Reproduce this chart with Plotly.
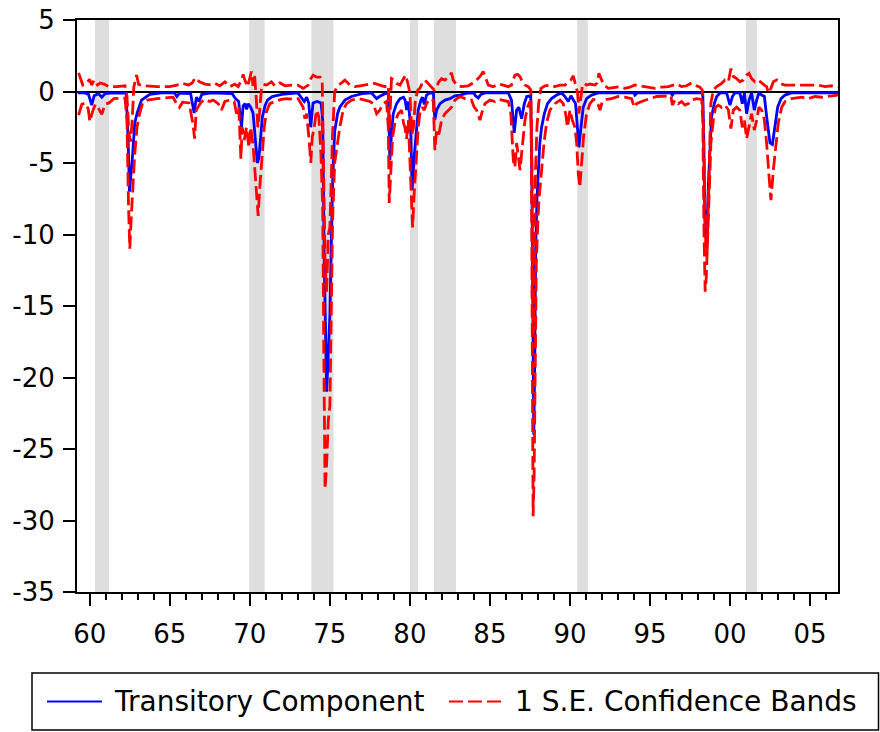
import plotly.graph_objects as go

# ---------------- data ----------------
t_years = [1959.25, 1959.7, 1959.92, 1960.12, 1960.27, 1960.54, 1960.75, 1960.96, 1961.5, 1962.27,
           1962.4, 1962.48, 1962.65, 1962.81, 1962.96, 1963.23, 1963.75, 1964.5, 1965.3, 1965.44,
           1965.6, 1966.3, 1966.52, 1966.66, 1966.82, 1967.0, 1967.6, 1968.5, 1968.9, 1969.1,
           1969.3, 1969.48, 1969.58, 1969.7, 1969.8, 1969.9, 1970.05, 1970.2, 1970.32, 1970.47,
           1970.57, 1970.68, 1970.78, 1970.95, 1971.1, 1971.4, 1972.0, 1973.0, 1973.2, 1973.4,
           1973.55, 1973.68, 1973.8, 1973.95, 1974.2, 1974.45, 1974.55, 1974.65, 1974.8, 1974.9,
           1975.0, 1975.08, 1975.17, 1975.3, 1975.48, 1975.62, 1975.94, 1976.35, 1977.0, 1977.6,
           1977.92, 1978.1, 1978.44, 1978.65, 1978.75, 1978.85, 1978.96, 1979.17, 1979.38, 1979.6,
           1979.7, 1979.8, 1979.9, 1980.05, 1980.14, 1980.27, 1980.42, 1980.52, 1980.69, 1980.79,
           1980.9, 1981.04, 1981.25, 1981.47, 1981.56, 1981.67, 1981.88, 1982.19, 1982.5, 1982.81,
           1983.12, 1983.65, 1984.0, 1984.1, 1984.27, 1984.44, 1984.7, 1986.15, 1986.35, 1986.52,
           1986.67, 1986.81, 1986.98, 1987.15, 1987.3, 1987.55, 1987.62, 1987.68, 1987.74, 1987.8,
           1987.86, 1987.94, 1988.02, 1988.12, 1988.23, 1988.4, 1988.6, 1988.85, 1989.17, 1989.48,
           1989.69, 1989.9, 1990.06, 1990.21, 1990.35, 1990.48, 1990.56, 1990.69, 1990.83, 1991.04,
           1991.35, 1991.77, 1994.0, 1994.06, 1994.2, 1996.3, 1996.4, 1996.5, 1998.3, 1998.36,
           1998.43, 1998.5, 1998.58, 1998.65, 1998.75, 1998.85, 1999.02, 1999.17, 1999.38, 1999.79,
           2000.0, 2000.15, 2000.31, 2000.62, 2000.77, 2000.9, 2001.04, 2001.19, 2001.35, 2001.52,
           2001.67, 2001.81, 2001.98, 2002.15, 2002.29, 2002.5, 2002.65, 2002.81, 2002.98, 2003.19,
           2003.44, 2003.85, 2006.75]
t_vals = [-0.1, -0.1, -0.2, -0.95, -0.3, -0.15, -0.4, -0.15, -0.1, -0.12,
          -3.6, -7.0, -4.8, -2.2, -1.5, -0.6, -0.2, -0.1, -0.1, -0.35,
          -0.12, -0.15, -1.5, -0.4, -0.7, -0.2, -0.1, -0.15, -0.15, -0.5,
          -0.7, -2.5, -1.0, -0.85, -1.25, -0.85, -1.1, -1.5, -3.0, -5.0,
          -4.6, -3.0, -1.8, -1.0, -0.6, -0.35, -0.2, -0.1, -0.4, -0.7,
          -0.4, -0.8, -2.5, -0.8, -0.7, -0.8, -2.0, -12.0, -21.0, -18.0,
          -15.7, -11.0, -6.4, -2.8, -1.55, -1.1, -0.6, -0.35, -0.15, -0.1,
          -0.5, -0.35, -0.15, -0.15, -4.8, -3.0, -1.55, -0.85, -0.5, -0.4,
          -0.6, -1.3, -0.7, -2.5, -6.9, -4.6, -2.2, -1.3, -0.6, -0.4,
          -0.9, -0.25, -0.1, -0.12, -2.0, -1.3, -0.85, -0.6, -0.5, -0.3,
          -0.25, -0.1, -0.12, -0.3, -0.45, -0.2, -0.1, -0.1, -0.6, -2.9,
          -1.3, -1.1, -1.9, -0.85, -0.35, -0.3, -6.0, -16.0, -24.0, -19.0,
          -11.0, -7.5, -5.8, -3.6, -2.5, -1.55, -0.85, -0.5, -0.25, -0.1,
          -0.35, -0.7, -0.3, -0.6, -0.85, -2.7, -3.9, -2.5, -1.1, -0.5,
          -0.25, -0.1, -0.1, -0.25, -0.1, -0.1, -0.25, -0.1, -0.1, -3.0,
          -9.0, -10.0, -9.2, -6.5, -3.6, -1.75, -0.85, -0.35, -0.1, -0.1,
          -0.95, -0.35, -0.1, -0.1, -0.85, -0.1, -1.55, -0.6, -0.1, -1.3,
          -0.6, -0.1, -0.25, -0.35, -1.75, -3.6, -3.7, -2.5, -1.1, -0.5,
          -0.25, -0.1, -0.1]

up_years = [1959.3, 1959.56, 1959.81, 1959.98, 1960.12, 1960.27, 1960.48, 1960.65, 1960.9, 1961.17,
            1961.7, 1962.2, 1962.32, 1962.45, 1962.55, 1962.65, 1962.75, 1962.92, 1963.05, 1963.35,
            1964.2, 1965.0, 1965.44, 1965.75, 1966.17, 1966.4, 1966.58, 1966.85, 1967.2, 1967.6,
            1967.81, 1968.12, 1968.44, 1968.75, 1969.06, 1969.27, 1969.48, 1969.58, 1969.69, 1969.85,
            1970.0, 1970.1, 1970.2, 1970.3, 1970.4, 1970.5, 1970.6, 1970.72, 1970.85, 1971.04,
            1971.35, 1971.56, 1971.88, 1972.2, 1972.6, 1973.0, 1973.33, 1973.65, 1973.81, 1973.96,
            1974.17, 1974.4, 1974.52, 1974.6, 1974.7, 1974.8, 1974.9, 1975.0, 1975.08, 1975.17,
            1975.3, 1975.5, 1975.73, 1975.94, 1976.25, 1976.56, 1976.88, 1977.19, 1977.5, 1977.81,
            1978.12, 1978.44, 1978.65, 1978.72, 1978.78, 1978.85, 1979.02, 1979.17, 1979.38, 1979.6,
            1979.73, 1979.85, 1980.0, 1980.12, 1980.22, 1980.35, 1980.5, 1980.62, 1980.77, 1980.94,
            1981.15, 1981.35, 1981.52, 1981.67, 1981.81, 1981.98, 1982.19, 1982.4, 1982.6, 1982.71,
            1982.92, 1983.23, 1983.65, 1984.06, 1984.38, 1984.58, 1984.73, 1984.9, 1985.21, 1985.52,
            1985.83, 1986.15, 1986.35, 1986.46, 1986.56, 1986.73, 1986.88, 1987.02, 1987.19, 1987.4,
            1987.56, 1987.64, 1987.72, 1987.78, 1987.85, 1987.94, 1988.05, 1988.19, 1988.44, 1988.75,
            1989.06, 1989.38, 1989.69, 1989.9, 1990.06, 1990.21, 1990.35, 1990.48, 1990.56, 1990.69,
            1990.77, 1990.9, 1991.04, 1991.25, 1991.56, 1991.7, 1991.81, 1991.98, 1992.19, 1992.4,
            1992.81, 1993.12, 1993.44, 1993.75, 1994.06, 1994.38, 1994.69, 1995.0, 1995.31, 1995.73,
            1996.15, 1996.46, 1996.67, 1996.98, 1997.29, 1997.6, 1997.81, 1998.12, 1998.27, 1998.35,
            1998.42, 1998.5, 1998.58, 1998.65, 1998.72, 1998.8, 1998.96, 1999.17, 1999.48, 1999.69,
            1999.9, 2000.06, 2000.21, 2000.42, 2000.62, 2000.83, 2001.04, 2001.19, 2001.35, 2001.56,
            2001.77, 2001.98, 2002.15, 2002.29, 2002.4, 2002.56, 2002.71, 2002.92, 2003.12, 2003.44,
            2003.85, 2004.27, 2004.69, 2005.1, 2005.52, 2005.94, 2006.35, 2006.75]
up_vals = [1.3, 0.45, 0.57, 0.85, 0.45, 0.8, 0.45, 0.6, 0.52, 0.34,
           0.34, 0.4, -0.3, -3.0, -3.5, -2.0, 0.3, 1.15, 0.5, 0.4,
           0.34, 0.34, 0.45, 0.57, 0.45, 0.6, 0.95, 0.68, 0.52, 0.45,
           0.57, 0.4, 0.68, 0.34, 0.52, 0.34, 0.8, 1.2, 0.8, 0.34,
           0.95, 1.4, 0.4, 1.1, -0.5, -2.5, -1.5, 0.1, 0.5, 0.45,
           0.68, 0.4, 0.6, 0.4, 0.45, 0.45, 0.22, 0.45, 0.9, 1.15,
           1.0, 1.0, 0.8, -4.0, -12.0, -14.0, -10.0, -9.5, -6.5, -3.0,
           0.0, 0.4, 0.6, 0.8, 0.45, 0.34, 0.4, 0.45, 0.52, 0.57,
           0.45, 0.34, 0.45, -2.5, -1.0, 0.9, 0.8, 0.57, 0.45, 0.85,
           1.15, 0.68, -0.1, -3.0, -2.5, -0.5, 0.1, 0.22, 0.57, 0.8,
           0.57, 0.34, 0.1, 0.34, 0.68, 0.9, 0.8, 1.0, 1.3, 0.8,
           0.45, 0.34, 0.4, 0.68, 1.05, 1.4, 0.9, 0.45, 0.34, 0.52,
           0.45, 0.34, 0.45, 0.8, 1.15, 1.2, 1.05, 0.68, 0.45, 0.34,
           0.1, -6.0, -17.0, -13.0, -5.5, -2.5, -0.8, 0.22, 0.4, 0.45,
           0.34, 0.45, 0.45, 0.68, 0.8, 1.1, 0.57, -0.1, -1.55, -0.35,
           0.34, 0.57, 0.45, 0.52, 0.45, 0.6, 1.27, 0.8, 0.4, 0.22,
           0.3, 0.34, 0.22, 0.3, 0.45, 0.4, 0.34, 0.3, 0.22, 0.3,
           0.34, 0.45, 0.52, 0.34, 0.4, 0.6, 0.45, 0.3, 0.1, -3.0,
           -8.0, -11.5, -11.0, -7.0, -3.5, -0.85, 0.1, 0.34, 0.57, 0.8,
           0.68, 1.6, 1.05, 0.9, 0.68, 0.8, 1.15, 1.27, 0.9, 0.68,
           0.8, 0.57, 0.45, 0.34, -0.1, 0.22, 0.68, 0.8, 0.57, 0.45,
           0.45, 0.4, 0.45, 0.4, 0.45, 0.34, 0.4, 0.3]

lo_years = [1959.3, 1959.5, 1959.7, 1959.9, 1960.0, 1960.2, 1960.35, 1960.55, 1960.75, 1960.95,
            1961.2, 1961.5, 1962.2, 1962.32, 1962.42, 1962.5, 1962.58, 1962.68, 1962.8, 1962.95,
            1963.1, 1963.3, 1963.6, 1964.2, 1965.2, 1965.4, 1965.6, 1965.8, 1966.2, 1966.45,
            1966.55, 1966.65, 1966.95, 1967.19, 1967.5, 1967.71, 1968.02, 1968.23, 1968.44, 1968.75,
            1969.02, 1969.17, 1969.31, 1969.44, 1969.52, 1969.65, 1969.79, 1969.94, 1970.06, 1970.21,
            1970.31, 1970.42, 1970.52, 1970.62, 1970.77, 1970.9, 1971.04, 1971.25, 1971.56, 1971.98,
            1972.29, 1972.71, 1973.02, 1973.19, 1973.33, 1973.44, 1973.54, 1973.69, 1973.81, 1973.9,
            1974.02, 1974.17, 1974.31, 1974.44, 1974.55, 1974.62, 1974.7, 1974.8, 1974.9, 1975.0,
            1975.08, 1975.17, 1975.3, 1975.48, 1975.62, 1975.83, 1976.04, 1976.35, 1976.77, 1977.19,
            1977.5, 1977.71, 1977.92, 1978.12, 1978.33, 1978.54, 1978.65, 1978.71, 1978.81, 1978.92,
            1979.06, 1979.27, 1979.48, 1979.6, 1979.69, 1979.79, 1979.9, 1980.0, 1980.1, 1980.17,
            1980.27, 1980.42, 1980.52, 1980.62, 1980.77, 1980.9, 1981.04, 1981.25, 1981.46, 1981.56,
            1981.67, 1981.81, 1981.98, 1982.19, 1982.4, 1982.6, 1982.81, 1983.12, 1983.44, 1983.85,
            1984.02, 1984.17, 1984.27, 1984.38, 1984.48, 1984.69, 1985.0, 1985.31, 1985.52, 1985.83,
            1986.15, 1986.31, 1986.46, 1986.56, 1986.67, 1986.77, 1986.88, 1987.02, 1987.19, 1987.35,
            1987.5, 1987.58, 1987.64, 1987.7, 1987.76, 1987.82, 1987.9, 1988.0, 1988.06, 1988.23,
            1988.38, 1988.54, 1988.75, 1989.06, 1989.38, 1989.58, 1989.73, 1989.85, 1990.0, 1990.15,
            1990.31, 1990.42, 1990.52, 1990.62, 1990.73, 1990.85, 1991.04, 1991.25, 1991.46, 1991.6,
            1991.77, 1991.88, 1992.02, 1992.29, 1992.6, 1993.02, 1993.44, 1993.85, 1994.02, 1994.17,
            1994.48, 1994.69, 1995.0, 1995.42, 1995.94, 1996.31, 1996.4, 1996.56, 1996.77, 1996.98,
            1997.19, 1997.4, 1997.6, 1997.92, 1998.23, 1998.3, 1998.38, 1998.45, 1998.52, 1998.58,
            1998.65, 1998.72, 1998.81, 1998.96, 1999.1, 1999.27, 1999.48, 1999.69, 1999.9, 2000.06,
            2000.21, 2000.42, 2000.62, 2000.77, 2000.9, 2001.04, 2001.19, 2001.35, 2001.52, 2001.67,
            2001.81, 2001.98, 2002.15, 2002.29, 2002.44, 2002.56, 2002.71, 2002.85, 2003.02, 2003.23,
            2003.44, 2003.85, 2004.48, 2004.9, 2005.31, 2005.73, 2006.35, 2006.75]
lo_vals = [-1.65, -0.9, -0.8, -1.2, -2.1, -1.3, -0.9, -1.2, -1.6, -0.9,
           -0.8, -0.5, -0.45, -2.0, -8.0, -11.0, -9.0, -6.7, -4.5, -2.5,
           -1.6, -0.8, -0.6, -0.5, -0.4, -0.8, -1.1, -0.75, -0.8, -2.3,
           -3.3, -1.3, -0.75, -0.55, -0.7, -0.6, -0.85, -1.3, -0.7, -0.6,
           -0.7, -1.55, -1.1, -4.7, -2.5, -3.4, -2.5, -3.9, -2.5, -3.9,
           -5.5, -7.6, -8.7, -6.7, -4.3, -2.5, -1.4, -0.85, -0.7, -0.55,
           -0.5, -0.55, -0.5, -0.85, -1.1, -1.9, -1.55, -3.2, -5.0, -3.2,
           -2.5, -1.3, -1.75, -4.3, -8.0, -18.0, -27.8, -26.0, -23.0, -22.0,
           -16.0, -9.0, -5.0, -3.6, -2.5, -1.3, -0.85, -0.6, -0.5, -0.6,
           -0.7, -0.85, -1.55, -1.3, -0.85, -0.7, -2.5, -7.8, -5.5, -3.2,
           -2.2, -1.55, -1.3, -2.2, -2.5, -3.3, -2.0, -4.5, -7.6, -9.5,
           -7.1, -3.9, -2.5, -1.55, -1.1, -1.3, -0.85, -0.5, -0.6, -4.1,
           -2.7, -3.0, -2.0, -1.55, -1.3, -1.1, -0.6, -0.35, -0.5, -0.6,
           -1.1, -1.3, -1.65, -2.0, -1.55, -0.85, -0.6, -0.7, -0.55, -0.6,
           -0.7, -1.55, -4.8, -5.3, -3.6, -4.5, -5.5, -3.9, -2.0, -1.1,
           -0.7, -2.0, -15.0, -29.7, -27.0, -20.0, -12.0, -9.0, -7.6, -5.5,
           -3.6, -2.2, -1.3, -0.85, -0.6, -0.85, -1.55, -2.5, -1.3, -2.0,
           -2.5, -3.6, -5.7, -6.7, -4.8, -3.2, -1.55, -0.85, -0.55, -0.6,
           -0.95, -1.3, -0.7, -0.55, -0.5, -0.35, -0.4, -0.5, -1.1, -0.85,
           -0.7, -0.6, -0.5, -0.35, -0.35, -0.3, -0.95, -0.6, -0.85, -0.7,
           -0.95, -0.85, -0.6, -0.5, -0.55, -2.0, -10.0, -14.0, -13.0, -11.0,
           -9.0, -6.0, -3.6, -2.0, -1.1, -0.95, -1.1, -0.95, -1.3, -2.6,
           -1.3, -1.1, -1.3, -2.5, -2.0, -3.3, -2.5, -1.55, -2.7, -2.0,
           -1.1, -1.3, -2.0, -3.6, -5.9, -7.6, -5.5, -3.9, -2.2, -1.1,
           -0.7, -0.5, -0.4, -0.5, -0.35, -0.4, -0.3, -0.25]

rec_starts = [1960.33, 1969.96, 1973.85, 1980.0, 1981.5, 1990.46, 2001.0]
rec_ends = [1961.2, 1970.92, 1975.23, 1980.5, 1982.88, 1991.12, 2001.68]

x_tick_vals = [1960, 1965, 1970, 1975, 1980, 1985, 1990, 1995, 2000, 2005]
x_tick_text = ["60", "65", "70", "75", "80", "85", "90", "95", "00", "05"]
y_tick_vals = [5, 0, -5, -10, -15, -20, -25, -30, -35]
y_tick_text = ["5", "0", "-5", "-10", "-15", "-20", "-25", "-30", "-35"]

names = ["Transitory Component", "1 S.E. Confidence Bands"]

# ---------------- figure ----------------
W, H = 880, 732
PLOT_L, PLOT_R, PLOT_T, PLOT_B = 77, 838, 20, 592
ML, MR, MT, MB = PLOT_L, W - PLOT_R, PLOT_T, H - PLOT_B
PW, PH = W - ML - MR, H - MT - MB
FONT = "DejaVu Sans, Liberation Sans, Arial, sans-serif"
TICK_SIZE = 26
LEG_SIZE = 28


def px2x(px):  # page px -> paper x
    return (px - PLOT_L) / PW


def py2y(py):  # page px -> paper y
    return (PLOT_B - py) / PH


fig = go.Figure()

for s, e in zip(rec_starts, rec_ends):
    fig.add_vrect(x0=s, x1=e, fillcolor="#DEDEDE", opacity=1, line_width=0, layer="below")

DASH = "14px,5px"
LW = 2.8
fig.add_trace(go.Scatter(x=t_years, y=t_vals, mode="lines", name=names[0],
                         line=dict(color="#0000FF", width=LW), showlegend=False))
fig.add_trace(go.Scatter(x=up_years, y=up_vals, mode="lines", name=names[1],
                         line=dict(color="#FF0000", width=LW, dash=DASH), showlegend=False))
fig.add_trace(go.Scatter(x=lo_years, y=lo_vals, mode="lines", name=names[1] + " (lower)",
                         line=dict(color="#FF0000", width=LW, dash=DASH), showlegend=False))

# legend drawn as a framed box with line samples and text
LEG_T, LEG_B = 673, 730
LEG_MID = (LEG_T + LEG_B) / 2
fig.add_shape(type="rect", xref="paper", yref="paper",
              x0=px2x(32), x1=px2x(878.5), y0=py2y(LEG_B), y1=py2y(LEG_T),
              line=dict(color="black", width=1.5), fillcolor="white", layer="above")
fig.add_shape(type="line", xref="paper", yref="paper",
              x0=px2x(47), x1=px2x(102), y0=py2y(LEG_MID), y1=py2y(LEG_MID),
              line=dict(color="#0000FF", width=2))
fig.add_shape(type="line", xref="paper", yref="paper",
              x0=px2x(449), x1=px2x(503), y0=py2y(LEG_MID), y1=py2y(LEG_MID),
              line=dict(color="#FF0000", width=2, dash="14px,5px"))
fig.add_annotation(xref="paper", yref="paper", x=px2x(112), y=py2y(LEG_MID),
                   text=names[0], showarrow=False, xanchor="left", yanchor="middle",
                   font=dict(family=FONT, size=LEG_SIZE, color="black"))
fig.add_annotation(xref="paper", yref="paper", x=px2x(513), y=py2y(LEG_MID),
                   text=names[1], showarrow=False, xanchor="left", yanchor="middle",
                   font=dict(family=FONT, size=LEG_SIZE, color="black"))

fig.update_layout(
    width=W, height=H,
    margin=dict(l=ML, r=MR, t=MT, b=MB, pad=0, autoexpand=False),
    paper_bgcolor="white", plot_bgcolor="white",
    font=dict(family=FONT, size=TICK_SIZE, color="black"),
    showlegend=False,
)
fig.update_xaxes(
    range=[1959.2, 2006.75], tickmode="array", tickvals=x_tick_vals, ticktext=x_tick_text,
    ticks="outside", ticklen=12, tickwidth=1.5, tickcolor="black",
    minor=dict(dtick=1, tick0=1960, ticks="outside", ticklen=6, tickwidth=1.5, tickcolor="black"),
    showline=True, linecolor="black", linewidth=2, mirror=True, automargin=False,
    showgrid=False, zeroline=False, tickfont=dict(size=TICK_SIZE),
    ticklabelstandoff=6, ticklabeloverflow="allow",
)
fig.update_yaxes(
    range=[-35, 5], tickmode="array", tickvals=y_tick_vals, ticktext=y_tick_text,
    ticks="outside", ticklen=12, tickwidth=1.5, tickcolor="black",
    showline=True, linecolor="black", linewidth=2, mirror=True, automargin=False,
    showgrid=False, zeroline=True, zerolinecolor="black", zerolinewidth=2,
    tickfont=dict(size=TICK_SIZE), ticklabelstandoff=3, ticklabeloverflow="allow",
)

# remove the browser's default 8px page margin so the figure fills the window exactly
fig.write_html("out.html", config={"displayModeBar": False},
               post_script="document.body.style.margin='0px';")
